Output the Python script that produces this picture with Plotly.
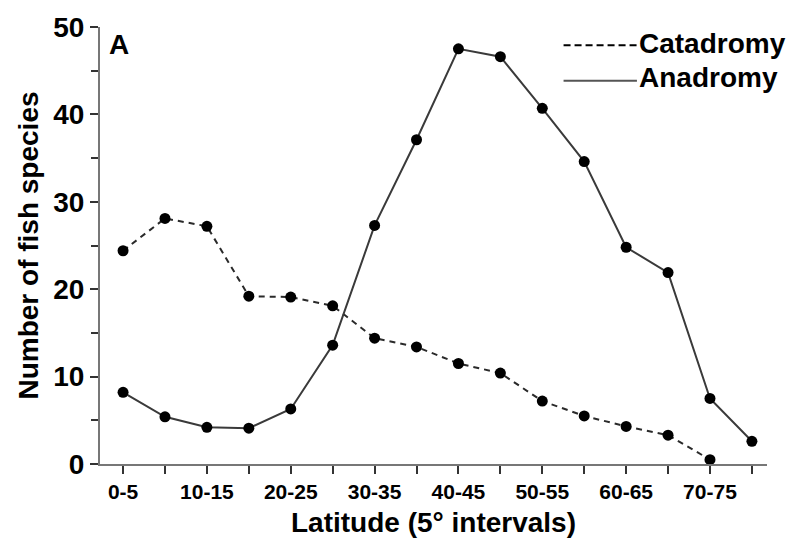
import plotly.graph_objects as go

categories = ["0-5", "5-10", "10-15", "15-20", "20-25", "25-30", "30-35", "35-40",
              "40-45", "45-50", "50-55", "55-60", "60-65", "65-70", "70-75", "75-80"]
catadromy = [24.4, 28.1, 27.2, 19.2, 19.1, 18.1, 14.4, 13.4, 11.5, 10.4, 7.2, 5.5, 4.3, 3.3, 0.5]
anadromy = [8.2, 5.4, 4.2, 4.1, 6.3, 13.6, 27.3, 37.1, 47.5, 46.6, 40.7, 34.6, 24.8, 21.9, 7.5, 2.6]
tick_labels = ["0-5", "", "10-15", "", "20-25", "", "30-35", "", "40-45", "", "50-55", "", "60-65", "", "70-75", ""]

FONT = "Liberation Sans, Arial, sans-serif"

fig = go.Figure()
fig.add_trace(go.Scatter(
    x=categories[:len(catadromy)], y=catadromy, mode="lines+markers", name="Catadromy",
    line=dict(color="#2a2a2a", width=2, dash="6px,5px"),
    marker=dict(color="black", size=11), showlegend=False))
fig.add_trace(go.Scatter(
    x=categories, y=anadromy, mode="lines+markers", name="Anadromy",
    line=dict(color="#3a3a3a", width=2),
    marker=dict(color="black", size=11), showlegend=False))

# legend drawn manually (long line samples)
fig.add_shape(type="line", xref="paper", yref="paper", x0=0.695, x1=0.805, y0=0.958, y1=0.958,
              line=dict(color="black", width=2, dash="7px,4px"))
fig.add_shape(type="line", xref="paper", yref="paper", x0=0.695, x1=0.805, y0=0.877, y1=0.877,
              line=dict(color="#555555", width=2))
fig.add_annotation(xref="paper", yref="paper", x=0.805, y=0.962, text="Catadromy", showarrow=False,
                   xanchor="left", yanchor="middle", font=dict(size=28, family=FONT, color="black", weight="bold"))
fig.add_annotation(xref="paper", yref="paper", x=0.805, y=0.885, text="Anadromy", showarrow=False,
                   xanchor="left", yanchor="middle", font=dict(size=28, family=FONT, color="black", weight="bold"))
fig.add_annotation(xref="paper", yref="paper", x=0.01, y=1.0, text="A", showarrow=False,
                   xanchor="left", yanchor="top", font=dict(size=28, family=FONT, color="black", weight="bold"))

fig.update_layout(
    width=790, height=545,
    margin=dict(l=100, r=23, t=27, b=79),
    paper_bgcolor="white", plot_bgcolor="white",
    font=dict(family=FONT, color="black"),
    xaxis=dict(
        type="category", categoryorder="array", categoryarray=categories,
        range=[-0.55, 15.36],
        tickmode="array", tickvals=categories, ticktext=tick_labels,
        ticks="outside", ticklen=8, tickwidth=2, tickcolor="#333",
        showline=True, linecolor="#777", linewidth=2,
        showgrid=False, zeroline=False,
        tickfont=dict(size=21, family=FONT, weight="bold"),
        title=dict(text="Latitude (5° intervals)", font=dict(size=28, family=FONT, weight="bold"), standoff=10),
    ),
    yaxis=dict(
        range=[0, 50], tickvals=[0, 10, 20, 30, 40, 50],
        ticks="outside", ticklen=8, tickwidth=2, tickcolor="#333",
        minor=dict(tickvals=[5, 15, 25, 35, 45], ticks="outside", ticklen=7, tickwidth=2, tickcolor="#333"),
        showline=True, linecolor="#777", linewidth=2,
        showgrid=False, zeroline=False,
        tickfont=dict(size=28, family=FONT, weight="bold"),
        title=dict(text="Number of fish species", font=dict(size=28, family=FONT, weight="bold"), standoff=6),
    ),
)

fig.write_html("out.html")
